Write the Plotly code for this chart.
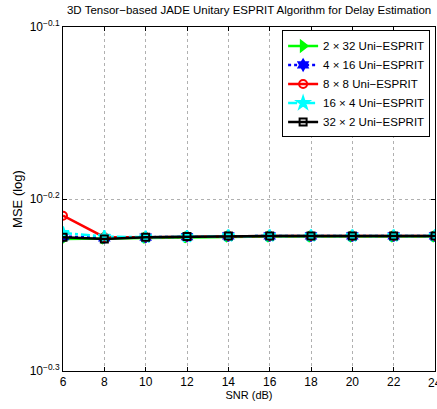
import plotly.graph_objects as go

# SNR grid (dB)
snr_db = [6, 8, 10, 12, 14, 16, 18, 20, 22, 24]

# MSE for each array split
mse_2x32 = [0.598, 0.5985, 0.599, 0.5995, 0.600, 0.600, 0.600, 0.600, 0.600, 0.600]
mse_4x16 = [0.600, 0.599, 0.5995, 0.600, 0.6005, 0.6005, 0.6005, 0.6005, 0.6005, 0.6005]
mse_8x8 = [0.617, 0.5995, 0.5995, 0.600, 0.6005, 0.6005, 0.6005, 0.6005, 0.6005, 0.6005]
mse_16x4 = [0.603, 0.600, 0.5995, 0.600, 0.6005, 0.6005, 0.6005, 0.6005, 0.6005, 0.6005]
mse_32x2 = [0.5995, 0.598, 0.5995, 0.600, 0.6005, 0.6005, 0.6005, 0.6005, 0.6005, 0.6005]

series_names = [
    "2 \u00d7 32 Uni\u2212ESPRIT",
    "4 \u00d7 16 Uni\u2212ESPRIT",
    "8 \u00d7 8 Uni\u2212ESPRIT",
    "16 \u00d7 4 Uni\u2212ESPRIT",
    "32 \u00d7 2 Uni\u2212ESPRIT",
]

y_tick_vals = [10 ** -0.3, 10 ** -0.2, 10 ** -0.1]
y_tick_text = ["10<sup>\u22120.3</sup>", "10<sup>\u22120.2</sup>", "10<sup>\u22120.1</sup>"]

styles = [
    dict(data=mse_2x32, color="#00FF00", dash="solid", symbol="triangle-right", size=9),
    dict(data=mse_4x16, color="#0000FF", dash="dot", symbol="hexagram", size=8),
    dict(data=mse_8x8, color="#FF0000", dash="solid", symbol="circle-open", size=8),
    dict(data=mse_16x4, color="#00FFFF", dash="dashdot", symbol="star", size=9),
    dict(data=mse_32x2, color="#000000", dash="solid", symbol="square-open", size=7),
]

fig = go.Figure()
for name, st in zip(series_names, styles):
    fig.add_trace(go.Scatter(
        x=snr_db, y=st["data"], name=name, mode="lines+markers",
        line=dict(color=st["color"], width=2.5, dash=st["dash"]),
        marker=dict(symbol=st["symbol"], size=st["size"], color=st["color"],
                    line=dict(color=st["color"], width=2)),
    ))

family = "Liberation Sans, Arial, sans-serif"
title_font = dict(family=family, size=11, color="black")
tick_font = dict(family=family, size=12, color="black")

fig.update_layout(
    width=437, height=409,
    margin=dict(l=63, r=2, t=27, b=38),
    paper_bgcolor="white", plot_bgcolor="white",
    font=title_font,
    title=dict(text="3D Tensor\u2212based JADE Unitary ESPRIT Algorithm for Delay Estimation",
               x=0.57, xanchor="center", y=0.985, yanchor="top",
               font=dict(family=family, size=11.5, color="black")),
    showlegend=True,
    legend=dict(x=0.589, y=0.99, xanchor="left", yanchor="top",
                bgcolor="white", bordercolor="black", borderwidth=1,
                font=dict(family=family, size=11.5, color="black"),
                tracegroupgap=0, itemwidth=30),
)

# the last x tick label sits on the right edge of the canvas
fig.add_annotation(x=snr_db[-1], y=0, xref="x", yref="paper", yanchor="top",
                   yshift=-3, text=str(snr_db[-1]), showarrow=False, font=tick_font)

fig.update_xaxes(
    range=[6, 24], tickvals=snr_db[:-1], ticks="inside", ticklen=4, tickcolor="black",
    showline=True, linecolor="black", linewidth=1, mirror="allticks",
    showgrid=True, gridcolor="#b0b0b0", griddash="dot", gridwidth=1,
    zeroline=False, title=dict(text="SNR (dB)", standoff=2, font=title_font),
    tickfont=tick_font,
)
fig.update_yaxes(
    type="log", range=[-0.3, -0.1], tickvals=y_tick_vals, ticktext=y_tick_text,
    ticks="inside", ticklen=4, tickcolor="black",
    showline=True, linecolor="black", linewidth=1, mirror="allticks",
    showgrid=True, gridcolor="#b0b0b0", griddash="dot", gridwidth=1,
    zeroline=False,
    title=dict(text="MSE (log)", standoff=4, font=dict(family=family, size=13, color="black")),
    tickfont=tick_font,
)

fig.write_html("out.html")
